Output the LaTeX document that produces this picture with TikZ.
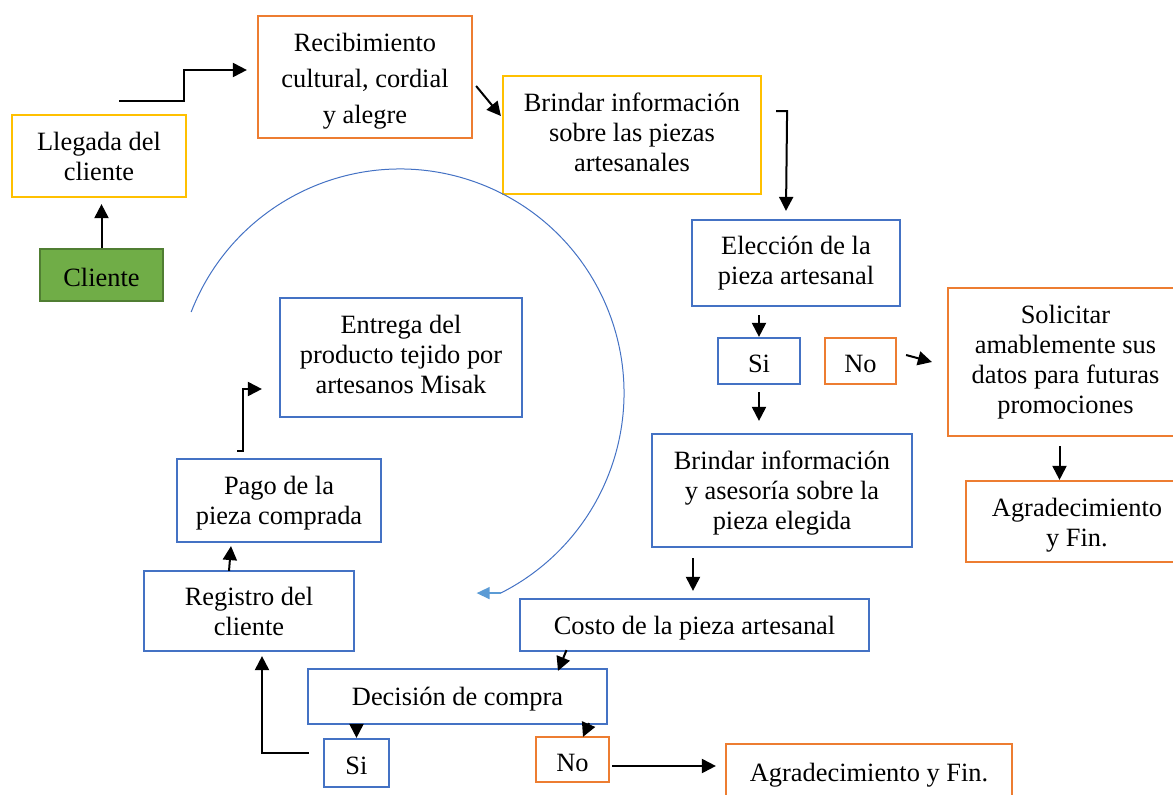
\documentclass[tikz,border=0pt]{standalone}
\usepackage{fontspec}
\setmainfont{Liberation Serif}
\usepackage{xcolor}
\usetikzlibrary{arrows.meta, calc}
\definecolor{amarillo}{HTML}{FFC000}
\definecolor{naranja}{HTML}{ED7D31}
\definecolor{azul}{HTML}{4472C4}
\definecolor{celeste}{HTML}{5B9BD5}
\definecolor{verde}{HTML}{70AD47}
\definecolor{verdeosc}{HTML}{507E32}

\begin{document}
\begin{tikzpicture}[x=1pt, y=-1pt,
  font=\fontsize{26.4}{30}\selectfont,
  caja/.style={draw=#1, line width=2.2pt, align=center, inner sep=0pt,
    execute at begin node=\rule{0pt}{24pt}},
  flecha/.style={-{Triangle[length=14pt,width=14pt]}, line width=2pt}]
\useasboundingbox (0,0) rectangle (1173,795);
\node[caja=amarillo, minimum width=174pt, minimum height=82pt] (llegada) at (99,156) {Llegada del\\cliente};
\node[caja=verdeosc, fill=verde, minimum width=123pt, minimum height=52pt] (cliente) at (101.5,275) {Cliente};
\node[caja=naranja, minimum width=214pt, minimum height=122pt, text height=98pt, font=\fontsize{26.4}{36}\selectfont] (recib) at (365,77) {Recibimiento\\cultural, cordial\\y alegre};
\node[caja=amarillo, minimum width=258pt, minimum height=118pt, text height=74pt] (brindar) at (632,135) {Brindar información\\sobre las piezas\\artesanales};
\node[caja=azul, minimum width=208pt, minimum height=86pt] (eleccion) at (796,263) {Elección de la\\pieza artesanal};
\node[caja=azul, minimum width=82pt, minimum height=46pt] (si1) at (759,361) {Si};
\node[caja=naranja, minimum width=71pt, minimum height=46pt] (no1) at (860.5,361) {No};
\node[caja=naranja, minimum width=235pt, minimum height=148pt] (solic) at (1065.5,362) {Solicitar\\amablemente sus\\datos para futuras\\promociones};
\node[caja=naranja, minimum width=222pt, minimum height=81pt, text height=56pt] (agrad1) at (1077,521.5) {Agradecimiento\\y Fin.};
\node[caja=azul, minimum width=260pt, minimum height=113pt, text height=84pt] (asesoria) at (782,490.5) {Brindar información\\y asesoría sobre la\\pieza elegida};
\node[caja=azul, minimum width=349pt, minimum height=52pt] (costo) at (694.5,625) {Costo de la pieza artesanal};
\node[caja=azul, minimum width=299pt, minimum height=55pt] (decision) at (457.5,696.5) {Decisión de compra};
\node[caja=azul, minimum width=65pt, minimum height=48pt] (si2) at (356.5,763) {Si};
\node[caja=naranja, minimum width=73pt, minimum height=45pt] (no2) at (572.5,759.5) {No};
\node[caja=naranja, minimum width=286pt, minimum height=56pt] (agrad2) at (869,772) {Agradecimiento y Fin.};
\node[caja=azul, minimum width=210pt, minimum height=80pt] (registro) at (249,611) {Registro del\\cliente};
\node[caja=azul, minimum width=204pt, minimum height=83pt, text height=54pt] (pago) at (279,500.5) {Pago de la\\pieza comprada};
\node[caja=azul, minimum width=242pt, minimum height=119pt, text height=72pt] (entrega) at (401,357.5) {Entrega del\\producto tejido por\\artesanos Misak};
% conectores
\coordinate (c1) at ($(llegada.north)+(20,-13)$);
\coordinate (c2) at ($(solic.south)+(-6,9)$);
\draw[flecha] (cliente.north) -- ($(cliente.north |- llegada.south)+(0,6)$);
\draw[flecha] (c1) -- ++(65,0) |- ($(recib.west)+(-10,-7)$);
\draw[flecha] ($(recib.east)+(3,9)$) -- ($(brindar.west)+(-1,-19)$);
\draw[flecha] ($(brindar.east)+(14,-24)$) -- ++(11,0) -- ($(eleccion.north)+(-10,-8)$);
\draw[flecha] ($(si1.north |- eleccion.south)+(0,8)$) -- (si1.north);
\draw[flecha] ($(no1.east)+(9,-6)$) -- ($(solic.west)+(-15,0)$);
\draw[flecha] ($(si1.south)+(0,7)$) -- ($(si1.south |- asesoria.north)+(0,-12)$);
\draw[flecha] (c2) -- (c2 |- agrad1.north);
\draw[flecha] ($(costo.north |- asesoria.south)+(-1.5,10)$) -- ($(costo.north)+(-1.5,-7)$);
\draw[flecha] ($(costo.south)+(-128,-2)$) -- ($(decision.north)+(100.5,3)$);
\draw[flecha] ($(decision.south)+(131.5,-2)$) -- ($(no2.north)+(10.5,1)$);
\draw[flecha] (si2.north |- decision.south) -- (si2.north);
\draw[flecha] ($(no2.east)+(2,6.5)$) -- ($(agrad2.west)+(-9,-6)$);
\draw[flecha] ($(si2.west)+(-14,-10)$) -| ($(registro.south)+(13,4)$);
\draw[flecha] ($(registro.north)+(-20,1)$) -- ($(pago.south)+(-48,3)$);
\draw[flecha] ($(pago.north)+(-42,-7)$) -- ++(6,0) |- ($(entrega.west)+(-17,31.5)$);
% ciclo
\coordinate (centro) at (400,393);
\draw[azul, line width=1pt] (centro) ++(201.2:224) arc[start angle=201.2, end angle=423.3, radius=224] coordinate (arcfin);
\draw[celeste, line width=1.5pt, -{Triangle[length=13pt,width=12pt]}] (arcfin) -- ++(-24,0);
\end{tikzpicture}
\end{document}
